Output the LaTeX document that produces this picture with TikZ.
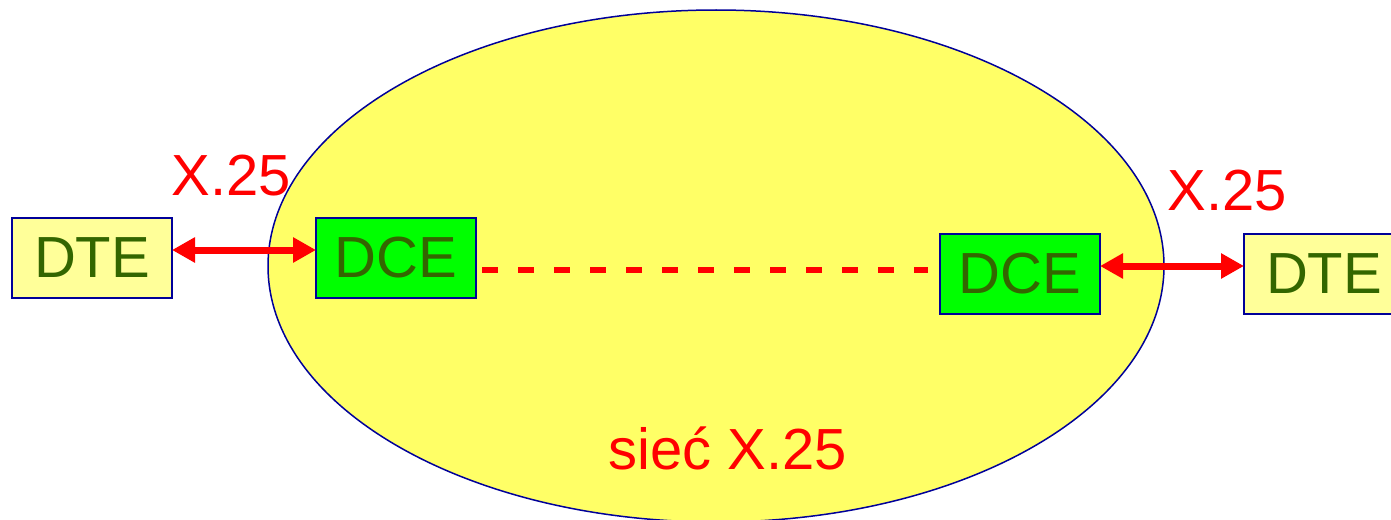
\documentclass[tikz,border=0pt]{standalone}
\usepackage{fontspec}
\setmainfont{Liberation Sans}
\usetikzlibrary{arrows.meta,shapes.geometric}
\definecolor{ellfill}{HTML}{FFFF66}
\definecolor{navy}{HTML}{000099}
\definecolor{dtefill}{HTML}{FFFF99}
\definecolor{dcefill}{HTML}{00FF00}
\definecolor{txtgreen}{HTML}{336600}
\definecolor{xred}{HTML}{FF0000}
\tikzset{
  box/.style={draw=navy, line width=2pt, minimum width=160pt, minimum height=80pt, inner sep=0pt, text=txtgreen, font=\fontsize{58}{62}\selectfont},
  dtebox/.style={box, fill=dtefill},
  dcebox/.style={box, fill=dcefill},
  lbl/.style={text=xred, font=\fontsize{58}{62}\selectfont, inner sep=0pt},
  link/.style={draw=xred, line width=7pt, {Triangle[length=23pt,width=24pt]}-{Triangle[length=23pt,width=24pt]}, shorten <=-1pt, shorten >=-1pt},
}
\begin{document}
\begin{tikzpicture}[x=1pt,y=-1pt]
\clip (0,0) rectangle (1391,519);
\fill[white] (0,0) rectangle (1391,519);
\node[draw=navy, line width=1.5pt, fill=ellfill, ellipse, minimum width=896pt, minimum height=512pt, inner sep=0pt] (net) at (716,266) {};
\node[dtebox] (dteL) at (92,258) {DTE};
\node[dcebox] (dceL) at (396,258) {DCE};
\node[dcebox] (dceR) at (1020,274) {DCE};
\node[dtebox] (dteR) at (1324,274) {DTE};
\coordinate (dA) at (dceL.east |- 0,270);
\coordinate (dB) at (dceR.west |- 0,270);
\draw[xred, line width=6pt, dash pattern=on 16pt off 20pt] ([xshift=5pt]dA) -- ([xshift=-11pt]dB);
\draw[link] (dteL.east |- 0,250) -- (dceL.west |- 0,250);
\draw[link] (dceR.east |- 0,266) -- (dteR.west |- 0,266);
\node[lbl] (xL) at (231,176) {X.25};
\node[lbl] (xR) at (1227,191) {X.25};
\node[lbl] (siec) at (728,448) {sieć X.25};
\end{tikzpicture}
\end{document}
